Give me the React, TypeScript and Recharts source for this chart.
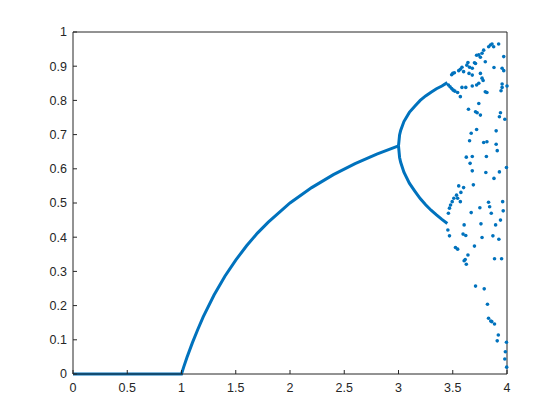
import { ComposedChart, Line, Scatter, XAxis, YAxis } from "recharts";

const BLUE = "#0072bd";
const AXIS = "#262626";
const FONT = "'Liberation Sans', Arial, sans-serif";

const xTicks = [0, 0.5, 1, 1.5, 2, 2.5, 3, 3.5, 4];
const yTicks = [0, 0.1, 0.2, 0.3, 0.4, 0.5, 0.6, 0.7, 0.8, 0.9, 1];

// [r, x] pairs
const stableBranch: [number, number][] = [
  [0, 0], [1, 0], [1.02, 0.02], [1.05, 0.048], [1.1, 0.091], [1.15, 0.13],
  [1.2, 0.167], [1.3, 0.231], [1.4, 0.286], [1.5, 0.333], [1.6, 0.375],
  [1.7, 0.412], [1.8, 0.444], [2.0, 0.5], [2.2, 0.545], [2.4, 0.583],
  [2.6, 0.615], [2.8, 0.643], [3.0, 0.667],
];

const upperBranch: [number, number][] = [
  [3.0, 0.667], [3.01, 0.699], [3.02, 0.712], [3.05, 0.738], [3.1, 0.765],
  [3.15, 0.783], [3.2, 0.8], [3.25, 0.813], [3.3, 0.824], [3.35, 0.834],
  [3.4, 0.842], [3.45, 0.852],
];

const lowerBranch: [number, number][] = [
  [3.0, 0.667], [3.01, 0.633], [3.02, 0.619], [3.05, 0.59], [3.1, 0.558],
  [3.15, 0.535], [3.2, 0.513], [3.25, 0.495], [3.3, 0.479], [3.35, 0.465],
  [3.4, 0.452], [3.45, 0.44],
];

const period4Points: [number, number][] = [
  [3.455, 0.421], [3.47, 0.404], [3.46, 0.47], [3.47, 0.485], [3.48, 0.494],
  [3.495, 0.504], [3.51, 0.514], [3.535, 0.523], [3.545, 0.514], [3.57, 0.504],
  [3.575, 0.531], [3.555, 0.55], [3.6, 0.545], [3.525, 0.37], [3.545, 0.365],
  [3.46, 0.845], [3.475, 0.84], [3.49, 0.835], [3.505, 0.83], [3.52, 0.827],
  [3.545, 0.823], [3.57, 0.811], [3.49, 0.875], [3.5, 0.879], [3.515, 0.881],
  [3.555, 0.887], [3.57, 0.891], [3.585, 0.897], [3.6, 0.884], [3.585, 0.838],
  [3.62, 0.838],
];

const chaosUpper: [number, number][] = [
  [3.64, 0.911], [3.63, 0.903], [3.655, 0.897], [3.65, 0.879], [3.68, 0.874],
  [3.7, 0.91], [3.71, 0.908], [3.68, 0.894], [3.72, 0.932], [3.74, 0.933],
  [3.755, 0.926], [3.77, 0.938], [3.785, 0.947], [3.8, 0.913], [3.831, 0.957],
  [3.847, 0.962], [3.862, 0.965], [3.877, 0.957], [3.923, 0.965], [3.97, 0.928],
  [3.755, 0.879], [3.88, 0.896], [3.955, 0.894], [3.97, 0.887], [3.77, 0.865],
  [3.78, 0.858], [3.74, 0.85], [3.72, 0.845], [3.68, 0.842], [3.955, 0.848],
  [3.955, 0.838], [4.0, 0.842], [3.8, 0.825], [3.815, 0.823], [3.945, 0.828],
];

const chaosMiddle: [number, number][] = [
  [3.74, 0.791], [3.645, 0.774], [3.71, 0.767], [3.725, 0.764], [3.755, 0.757],
  [3.94, 0.764], [3.93, 0.752], [3.98, 0.745], [3.72, 0.715], [3.67, 0.704],
  [3.9, 0.711], [3.655, 0.682], [3.785, 0.677], [3.815, 0.679], [3.9, 0.672],
  [3.625, 0.634], [3.68, 0.636], [3.81, 0.636], [3.91, 0.653], [3.66, 0.616],
  [3.995, 0.604], [3.68, 0.594], [3.805, 0.589], [3.93, 0.591], [3.88, 0.572],
  [3.69, 0.553], [3.75, 0.486], [3.83, 0.502], [3.84, 0.489], [3.96, 0.504],
];

const chaosLower: [number, number][] = [
  [3.67, 0.472], [3.855, 0.47], [3.965, 0.477], [3.605, 0.436], [3.76, 0.439],
  [3.895, 0.436], [3.94, 0.45], [3.595, 0.409], [3.62, 0.405], [3.77, 0.399],
  [3.87, 0.404], [3.925, 0.394], [3.7, 0.374], [3.64, 0.348], [3.615, 0.335],
  [3.605, 0.331], [3.625, 0.321], [3.885, 0.337], [3.95, 0.337], [3.71, 0.257],
  [3.79, 0.249], [3.82, 0.204], [3.83, 0.163], [3.85, 0.155], [3.86, 0.153],
  [3.885, 0.146], [3.92, 0.114], [3.91, 0.097], [3.995, 0.093], [3.985, 0.065],
  [3.98, 0.044], [3.997, 0.02],
];

const toRows = (pairs: [number, number][]) => pairs.map(([r, x]) => ({ r, x }));

const dot = (props: any) => (
  <circle cx={props.cx} cy={props.cy} r={1.8} fill={BLUE} />
);

const tickStyle = { fill: AXIS, fontSize: 12.5, fontFamily: FONT };

export default function App() {
  const scatterSets = [period4Points, chaosUpper, chaosMiddle, chaosLower];

  return (
    <div style={{ position: "absolute", left: 0, top: 0, width: 560, height: 420, background: "#fff" }}>
      <ComposedChart
        width={560}
        height={420}
        margin={{ top: 31, right: 52, bottom: 16, left: 33 }}
      >
        <XAxis
          type="number"
          dataKey="r"
          domain={[0, 4]}
          ticks={xTicks}
          height={30}
          tickSize={-4}
          tickMargin={13}
          axisLine={{ stroke: AXIS }}
          tickLine={{ stroke: AXIS }}
          tick={tickStyle}
        />
        <XAxis
          xAxisId="top"
          orientation="top"
          type="number"
          dataKey="r"
          domain={[0, 4]}
          ticks={xTicks}
          height={1}
          tickSize={-4}
          tickFormatter={() => ""}
          axisLine={{ stroke: AXIS }}
          tickLine={{ stroke: AXIS }}
        />
        <YAxis
          type="number"
          domain={[0, 1]}
          ticks={yTicks}
          width={40}
          tickSize={-4}
          tickMargin={10}
          axisLine={{ stroke: AXIS }}
          tickLine={{ stroke: AXIS }}
          tick={tickStyle}
        />
        <YAxis
          yAxisId="right"
          orientation="right"
          type="number"
          domain={[0, 1]}
          ticks={yTicks}
          width={1}
          tickSize={-4}
          tickFormatter={() => ""}
          axisLine={{ stroke: AXIS }}
          tickLine={{ stroke: AXIS }}
        />

        <Line
          data={toRows(stableBranch)}
          dataKey="x"
          type="linear"
          stroke={BLUE}
          strokeWidth={3}
          dot={false}
          isAnimationActive={false}
        />
        <Line
          data={toRows(upperBranch)}
          dataKey="x"
          type="linear"
          stroke={BLUE}
          strokeWidth={3}
          dot={false}
          isAnimationActive={false}
        />
        <Line
          data={toRows(lowerBranch)}
          dataKey="x"
          type="linear"
          stroke={BLUE}
          strokeWidth={3}
          dot={false}
          isAnimationActive={false}
        />
        {scatterSets.map((set, i) => (
          <Scatter
            key={i}
            data={toRows(set)}
            dataKey="x"
            shape={dot}
            isAnimationActive={false}
          />
        ))}
      </ComposedChart>
    </div>
  );
}
